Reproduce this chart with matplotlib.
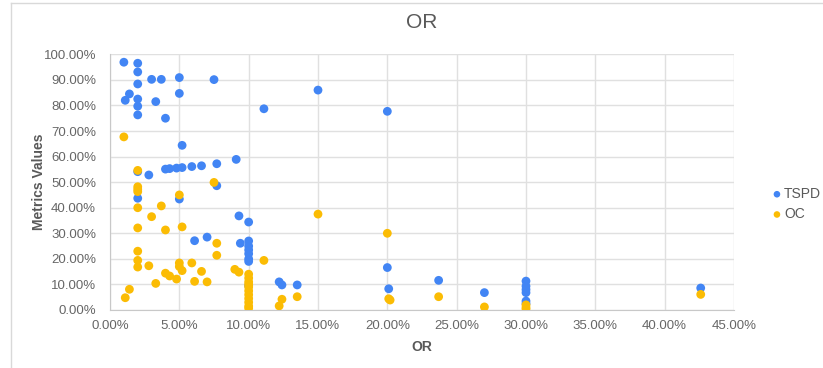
import matplotlib.pyplot as plt
from matplotlib.ticker import FuncFormatter, MultipleLocator
from matplotlib.lines import Line2D

# values in percent
tspd_or = [1.0, 2.0, 2.0, 3.0, 3.7, 5.0, 7.5, 2.0, 1.4, 5.0, 1.1, 2.0, 3.3, 2.0,
           11.1, 2.0, 4.0, 5.2, 9.1, 7.7, 6.6, 5.9, 5.2, 4.8, 4.3, 4.0, 2.0, 2.8,
           15.0, 20.0, 7.7, 2.0, 5.0, 9.3, 10.0, 6.1, 7.0, 9.4,
           10.0, 10.0, 10.0, 10.0, 10.0, 10.0, 10.0,
           12.2, 12.4, 13.5, 20.0, 20.1, 23.7, 27.0,
           30.0, 30.0, 30.0, 30.0, 30.0, 30.0, 42.6]
tspd_val = [96.9, 96.5, 93.1, 90.2, 90.2, 90.9, 90.1, 88.4, 84.5, 84.7, 82.0, 82.5, 81.5, 79.7,
            78.7, 76.3, 75.0, 64.4, 58.9, 57.2, 56.4, 56.1, 55.7, 55.5, 55.3, 55.1, 54.1, 52.8,
            86.0, 77.7, 48.6, 43.7, 43.4, 36.8, 34.4, 27.1, 28.5, 26.1,
            27.0, 25.0, 23.5, 22.0, 20.0, 19.0, 9.5,
            11.0, 9.8, 9.8, 16.6, 8.3, 11.6, 6.8,
            11.3, 9.3, 8.0, 6.8, 3.5, 2.5, 8.6]

oc_or = [1.0, 2.0, 7.5, 2.0, 2.0, 2.0, 5.0, 2.0, 3.7, 3.0, 2.0, 4.0, 5.2, 7.7, 7.7,
         2.0, 2.0, 2.0, 2.8, 5.0, 5.0, 5.2, 5.9, 6.6, 4.0, 4.3, 4.8, 3.3, 6.1, 7.0,
         1.4, 1.1, 9.0, 9.3, 11.1,
         10.0, 10.0, 10.0, 10.0, 10.0, 10.0, 10.0, 10.0, 10.0, 10.0, 10.0,
         12.4, 12.2, 13.5, 15.0, 20.0, 20.1, 20.2, 23.7, 27.0, 30.0, 30.0, 30.0, 42.6]
oc_val = [67.7, 54.6, 49.9, 48.2, 47.2, 46.3, 45.0, 40.0, 40.7, 36.5, 32.1, 31.3, 32.5, 26.1, 21.4,
          23.0, 19.4, 16.8, 17.3, 18.4, 17.0, 15.4, 18.4, 15.1, 14.4, 13.3, 12.1, 10.4, 11.2, 11.0,
          8.1, 4.8, 15.9, 14.8, 19.4,
          14.0, 12.5, 11.0, 10.0, 9.0, 7.5, 6.0, 4.5, 3.0, 1.5, 0.7,
          4.2, 1.6, 5.2, 37.5, 30.0, 4.4, 3.9, 5.2, 1.2, 2.0, 1.0, 0.3, 6.1]

plt.rcParams['font.family'] = ['Liberation Sans', 'DejaVu Sans']

fig = plt.figure(figsize=(8.23, 3.68), dpi=100)
ax = fig.add_axes([110 / 823, 1 - 310 / 368, 624 / 823, 255.7 / 368])

ax.scatter(tspd_or, tspd_val, s=40, color='#4285F4', edgecolors='none', label='TSPD', zorder=3)
ax.scatter(oc_or, oc_val, s=40, color='#FBBC04', edgecolors='none', label='OC', zorder=4)

ax.set_xlim(0, 45)
ax.set_ylim(0, 100)
ax.xaxis.set_major_locator(MultipleLocator(5))
ax.yaxis.set_major_locator(MultipleLocator(10))
fmt = FuncFormatter(lambda v, p: f'{v:.2f}%')
ax.xaxis.set_major_formatter(fmt)
ax.yaxis.set_major_formatter(fmt)
ax.grid(True, color='#e0e0e0', linewidth=1)
ax.set_axisbelow(True)
for s in ['top', 'right']:
    ax.spines[s].set_visible(False)
for s in ['left', 'bottom']:
    ax.spines[s].set_color('#c8c8c8')
ax.tick_params(length=0, colors='#666666', labelsize=9.5)
ax.tick_params(axis='y', pad=10)
ax.tick_params(axis='x', pad=7)

ax.set_xlabel('OR', fontsize=10, fontweight='bold', color='#595959', labelpad=6)
ax.set_ylabel('Metrics Values', fontsize=10, fontweight='bold', color='#595959', labelpad=-2)
fig.text(422 / 823, 1 - 22 / 368, 'OR', ha='center', va='center', fontsize=15, color='#595959')

leg = fig.legend(loc='center left', bbox_to_anchor=(770 / 823, 1 - 204 / 368), frameon=False,
                 handletextpad=0.0, handlelength=1.0, markerscale=0.75, labelspacing=0.45,
                 fontsize=10, borderaxespad=0, borderpad=0)
for t in leg.get_texts():
    t.set_color('#595959')

# outer chart frame (left and top edges visible)
fig.add_artist(Line2D([11 / 823, 11 / 823], [0, 1 - 3 / 368], transform=fig.transFigure,
                      color='#d9d9d9', linewidth=1))
fig.add_artist(Line2D([11 / 823, 1], [1 - 3 / 368, 1 - 3 / 368], transform=fig.transFigure,
                      color='#d9d9d9', linewidth=1))

fig.savefig('out.png', dpi=100)
